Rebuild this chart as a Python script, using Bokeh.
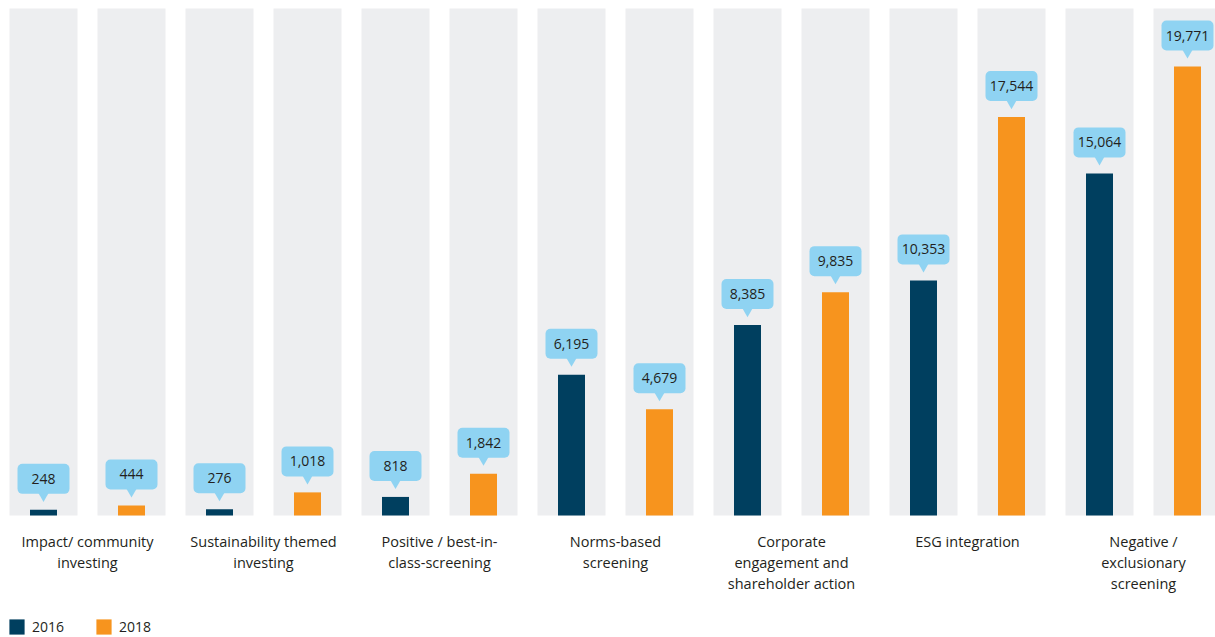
from bokeh.plotting import figure
from bokeh.models import Range1d, Legend, LegendItem, ColumnDataSource
from bokeh.core.properties import value
from bokeh.embed import file_html
from bokeh.resources import INLINE

categories = [
    ["Impact/ community", "investing"],
    ["Sustainability themed", "investing"],
    ["Positive / best-in-", "class-screening"],
    ["Norms-based", "screening"],
    ["Corporate", "engagement and", "shareholder action"],
    ["ESG integration"],
    ["Negative /", "exclusionary", "screening"],
]
v2016 = [248, 276, 818, 6195, 8385, 10353, 15064]
v2018 = [444, 1018, 1842, 4679, 9835, 17544, 19771]
series_names = ["2016", "2018"]

NAVY = "#003f5f"
ORANGE = "#f7941e"
GREY = "#edeef0"
CALLOUT = "#8fd3f2"
TEXT = "#231f20"
FONT = "Open Sans"

W, H = 1215, 637
PX_X = 88.0                 # pixels per column slot
x_start = -43.0 / PX_X
x_end = x_start + W / PX_X
PX_Y = 449.0 / 19771.0      # pixels per unit
grey_top = 507.0 / PX_Y
y_end = 515.0 / PX_Y
y_start = -(H - 515.0) / PX_Y

p = figure(width=W, height=H, output_backend="svg", toolbar_location=None,
           x_range=Range1d(x_start, x_end), y_range=Range1d(y_start, y_end),
           min_border=0, border_fill_color="white", outline_line_color=None)
p.axis.visible = False
p.xgrid.visible = False
p.ygrid.visible = False

n = len(categories)
xs16 = [2 * i for i in range(n)]
xs18 = [2 * i + 1 for i in range(n)]
allx = xs16 + xs18

# grey background columns
p.vbar(x=allx, top=grey_top, bottom=0, width=68 / PX_X, fill_color=GREY, line_color=None)

r16 = p.vbar(x=xs16, top=v2016, bottom=0, width=27 / PX_X, fill_color=NAVY, line_color=None)
r18 = p.vbar(x=xs18, top=v2018, bottom=0, width=27 / PX_X, fill_color=ORANGE, line_color=None)

# callouts
xs = xs16 + xs18
vals = v2016 + v2018
src = ColumnDataSource(dict(
    x=xs,
    left=[x - 26 / PX_X for x in xs],
    right=[x + 26 / PX_X for x in xs],
    bottom=[v + 16 / PX_Y for v in vals],
    top=[v + 46 / PX_Y for v in vals],
    tri=[v + 14 / PX_Y for v in vals],
    ty=[v + 31 / PX_Y for v in vals],
    label=[f"{v:,}" for v in vals],
))
p.quad(left="left", right="right", bottom="bottom", top="top", source=src,
       fill_color=CALLOUT, line_color=None, border_radius=5)
p.scatter(x="x", y="tri", source=src, marker="inverted_triangle", size=10.5,
          fill_color=CALLOUT, line_color=None)
p.text(x="x", y="ty", text="label", source=src, text_align="center",
       text_baseline="middle", text_font=value(FONT), text_font_size="14px",
       text_color=TEXT)

# category labels
lx, ly, lt, lo = [], [], [], []
for i, lines in enumerate(categories):
    for j, line in enumerate(lines):
        lx.append(2 * i + 0.5)
        ly.append(0)
        lt.append(line)
        lo.append(26 + 21 * j)
p.text(x=lx, y=ly, text=lt, y_offset=lo, text_align="center", text_baseline="middle",
       text_font=value(FONT), text_font_size="14.5px", text_color=TEXT)

legend = Legend(items=[LegendItem(label=series_names[0], renderers=[r16]),
                       LegendItem(label=series_names[1], renderers=[r18])],
                orientation="horizontal", location=(7, 1),
                glyph_width=19, glyph_height=19, label_standoff=6, spacing=30,
                padding=0, margin=0, border_line_color=None, background_fill_alpha=0,
                label_text_font=FONT, label_text_font_size="14px",
                label_text_color=TEXT, label_height=19)
p.add_layout(legend, "center")

open("out.html", "w").write(file_html(p, INLINE))
